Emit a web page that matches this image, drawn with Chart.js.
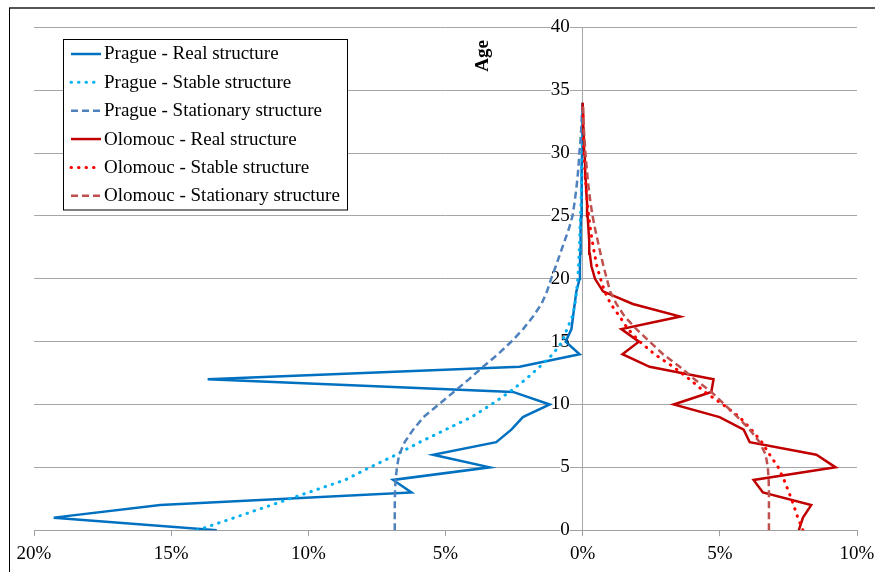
<!DOCTYPE html>
<html><head><meta charset="utf-8">
<script src="https://cdn.jsdelivr.net/npm/chart.js@4.4.1/dist/chart.umd.min.js"></script>
<style>html,body{margin:0;padding:0;background:#fff;}canvas{display:block;}</style>
</head><body>
<canvas id="c" width="875" height="572"></canvas>
<script>
// ---- data (shares in %, by age) ----
const ages = [0,1,2,3,4,5,6,7,8,9,10,11,12,13,14,15,16,17,18,19,20,21,22,23,24,25,26,27,28,29,30,31,32,33,34];
const pragueReal = [13.34,19.28,15.4,6.24,6.91,3.39,5.45,3.15,2.6,2.18,1.2,2.54,13.67,2.3,0.11,0.62,0.41,0.35,0.29,0.23,0.11,0.1,0.09,0.08,0.07,0.06,0.05,0.04,0.03,0.03,0.02,0.01,0.01,0.01,0];
const pragueStable = [14.05,12.69,11.35,10.0,8.66,7.76,6.8,5.94,5.0,4.05,3.33,2.66,2.08,1.57,1.09,0.74,0.57,0.38,0.28,0.22,0.18,0.15,0.13,0.11,0.1,0.08,0.06,0.05,0.04,0.03,0.02,0.02,0.01,0.01,0];
const pragueStationary = [6.85,6.85,6.85,6.84,6.82,6.77,6.69,6.49,6.18,5.8,5.25,4.7,4.15,3.63,3.09,2.6,2.17,1.81,1.5,1.3,1.15,0.98,0.82,0.66,0.5,0.37,0.3,0.24,0.19,0.15,0.12,0.08,0.05,0.03,0];
const olomoucReal = [7.88,8.03,8.33,6.57,6.23,9.22,8.52,6.09,5.87,4.99,3.32,4.69,4.77,2.44,1.45,2.05,1.41,3.56,1.83,0.74,0.45,0.32,0.26,0.24,0.21,0.18,0.16,0.13,0.11,0.09,0.07,0.05,0.03,0.02,0];
const olomoucStable = [8.03,7.84,7.69,7.52,7.34,7.13,6.82,6.53,6.15,5.72,5.11,4.45,3.9,3.3,2.62,2.08,1.65,1.35,1.02,0.8,0.65,0.52,0.43,0.35,0.28,0.22,0.17,0.13,0.1,0.07,0.05,0.03,0.02,0.01,0];
const olomoucStationary = [6.79,6.79,6.79,6.79,6.78,6.75,6.67,6.45,6.09,5.65,5.17,4.69,4.08,3.54,2.93,2.44,1.96,1.53,1.23,1.0,0.88,0.76,0.65,0.55,0.45,0.36,0.29,0.23,0.18,0.14,0.1,0.07,0.04,0.02,0];
const seriesNames = ['Prague - Real structure','Prague - Stable structure','Prague - Stationary structure','Olomouc - Real structure','Olomouc - Stable structure','Olomouc - Stationary structure'];
const xTicks = [-20,-15,-10,-5,0,5,10];
const yTicks = [0,5,10,15,20,25,30,35,40];
const axisTitle = 'Age';

// ---- build ----
const left = vals => vals.map((v,i)=>({x:-v, y:ages[i]}));
const right = vals => vals.map((v,i)=>({x:v, y:ages[i]}));
const solid = (c)=>({borderColor:c, borderWidth:2.5, borderDash:[], borderCapStyle:'butt'});
const dotted = (c)=>({borderColor:c, borderWidth:3, borderDash:[0.5,7], borderCapStyle:'round'});
const dashed = (c)=>({borderColor:c, borderWidth:2.5, borderDash:[7,4], borderCapStyle:'butt'});
const styles = [solid('#0070C0'), dotted('#00B0F0'), dashed('#4F81BD'), solid('#C00000'), dotted('#FF0000'), dashed('#C0504D')];
const dataSets = [left(pragueReal), left(pragueStable), left(pragueStationary), right(olomoucReal), right(olomoucStable), right(olomoucStationary)];

const datasets = dataSets.map((d,i)=>Object.assign({
  label: seriesNames[i], data: d, showLine: true, pointRadius: 0, pointHoverRadius: 0,
  tension: 0, fill: false, borderJoinStyle: 'miter', order: 5 - i
}, styles[i]));

const FONT = '"Liberation Serif", "Times New Roman", serif';
Chart.defaults.font.family = FONT;
Chart.defaults.color = '#000';
const GRID = '#a6a6a6';

const decor = {
  id: 'decor',
  afterDraw(chart) {
    const ctx = chart.ctx;
    ctx.save();
    // frame
    ctx.strokeStyle = '#555'; ctx.lineWidth = 2;
    ctx.beginPath(); ctx.moveTo(9, 8); ctx.lineTo(875, 8); ctx.stroke();
    ctx.strokeStyle = '#000'; ctx.lineWidth = 1;
    ctx.beginPath(); ctx.moveTo(9.5, 8); ctx.lineTo(9.5, 572); ctx.stroke();
    // axis title
    ctx.fillStyle = '#000';
    ctx.font = 'bold 19px ' + FONT;
    ctx.translate(483, 56); ctx.rotate(-Math.PI/2);
    ctx.textAlign = 'center'; ctx.textBaseline = 'middle';
    ctx.fillText(axisTitle, 0, 0);
    ctx.restore();
    // legend
    ctx.save();
    const bx = 63.5, by = 39.5, bw = 284, bh = 170.5;
    ctx.fillStyle = '#fff'; ctx.fillRect(bx, by, bw, bh);
    ctx.strokeStyle = '#000'; ctx.lineWidth = 1; ctx.strokeRect(bx, by, bw, bh);
    ctx.font = '19px ' + FONT;
    ctx.textBaseline = 'middle'; ctx.textAlign = 'left';
    chart.data.datasets.forEach((ds, i) => {
      const y = 54 + i * 28.35;
      ctx.save();
      ctx.strokeStyle = ds.borderColor; ctx.lineWidth = ds.borderWidth;
      ctx.setLineDash(ds.borderDash); ctx.lineCap = ds.borderCapStyle;
      ctx.beginPath(); ctx.moveTo(71, y); ctx.lineTo(101, y); ctx.stroke();
      ctx.restore();
      ctx.fillStyle = '#000';
      ctx.fillText(ds.label, 104, y + 0.5);
    });
    ctx.restore();
  }
};

new Chart(document.getElementById('c'), {
  type: 'scatter',
  data: { datasets },
  options: {
    responsive: false, animation: false,
    layout: { padding: { left: 34, right: 18, top: 27, bottom: 1 } },
    plugins: { legend: { display: false }, tooltip: { enabled: false } },
    scales: {
      x: {
        type: 'linear', min: xTicks[0], max: xTicks[xTicks.length-1],
        afterBuildTicks: s => { s.ticks = xTicks.map(v=>({value:v})); },
        afterFit: s => { s.paddingLeft = 0; s.paddingRight = 0; },
        ticks: { font: { size: 19 }, padding: 6, maxRotation: 0, autoSkip: false,
          callback: v => Math.abs(Math.round(v)) + '%' },
        grid: { drawOnChartArea: true, drawTicks: true, tickLength: 6,
          color: c => (c.tick && c.tick.value === 0) ? GRID : 'rgba(0,0,0,0)',
          tickColor: '#a0a0a0' },
        border: { color: '#a0a0a0', width: 1 }
      },
      y: {
        type: 'linear', position: { x: -0.47 }, min: 0, max: 40,
        afterBuildTicks: s => { s.ticks = yTicks.map(v=>({value:v})); },
        ticks: { font: { size: 19 }, padding: 16, autoSkip: false,
          showLabelBackdrop: true, backdropColor: '#fff', backdropPadding: { x: 0, y: 0 } },
        grid: { drawTicks: false, color: GRID, lineWidth: 1 },
        border: { display: false }
      }
    }
  },
  plugins: [decor]
});
</script>
</body></html>
